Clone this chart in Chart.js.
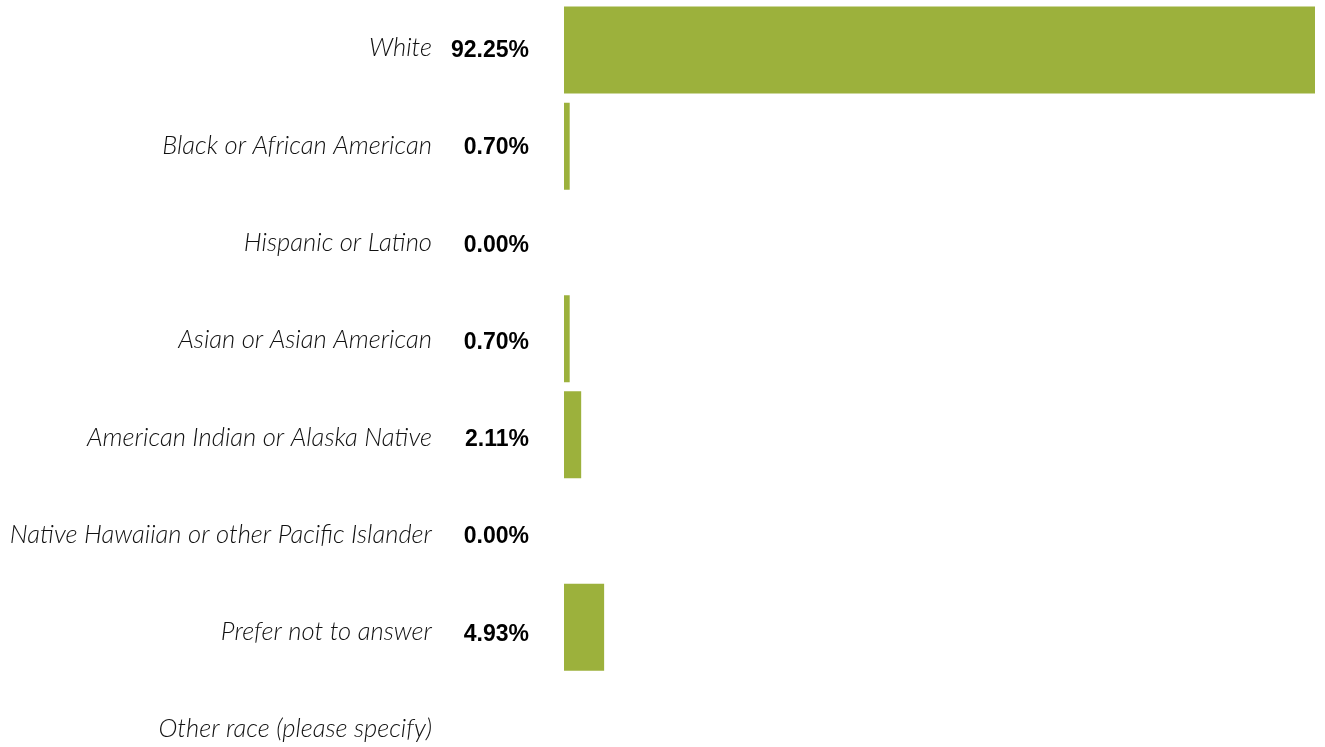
<!DOCTYPE html>
<html>
<head>
<meta charset="utf-8">
<script src="https://cdn.jsdelivr.net/npm/chart.js@4"></script>
<style>
  html, body { margin: 0; padding: 0; background: #fff; overflow: hidden; }
  #wrap { position: relative; width: 1325px; height: 774px; }
</style>
</head>
<body>
<div id="wrap"><canvas id="chartRace"></canvas></div>
<script>
const categories = [
    'White',
    'Black or African American',
    'Hispanic or Latino',
    'Asian or Asian American',
    'American Indian or Alaska Native',
    'Native Hawaiian or other Pacific Islander',
    'Prefer not to answer',
    'Other race (please specify)'
];
const percentValues = [92.25, 0.70, 0.00, 0.70, 2.11, 0.00, 4.93, null];
const valueLabels = ['92.25%', '0.70%', '0.00%', '0.70%', '2.11%', '0.00%', '4.93%', ''];

const barColor = '#9cb13c';

// category names (italic) + bold percentages, both left of the bars
const labelColumns = {
    id: 'labelColumns',
    afterDraw(chart) {
        const ctx = chart.ctx;
        const yScale = chart.scales.y;
        ctx.save();
        ctx.textAlign = 'right';
        ctx.textBaseline = 'middle';
        ctx.fillStyle = '#111';
        ctx.font = 'italic 300 25.6px Lato, "Open Sans", sans-serif';
        categories.forEach((txt, i) => {
            // original text rows sit a touch further apart than the bars
            ctx.fillText(txt, 432, yScale.getPixelForValue(i) - 2 + i * 1.1);
        });
        ctx.fillStyle = '#000';
        ctx.font = 'bold 23px "Liberation Sans", Arial, sans-serif';
        valueLabels.forEach((txt, i) => {
            if(!txt) return;
            ctx.fillText(txt, 529, yScale.getPixelForValue(i) + 0.5 + i * 1.1);
        });
        ctx.restore();
    }
};

new Chart(document.getElementById('chartRace'), {
    type: 'bar',
    data: {
        labels: categories,
        datasets: [{
            data: percentValues,
            backgroundColor: barColor,
            borderWidth: 0,
            categoryPercentage: 0.905,
            barPercentage: 1
        }]
    },
    options: {
        indexAxis: 'y',
        responsive: true,
        maintainAspectRatio: false,
        animation: false,
        layout: { padding: { top: 2, bottom: 2.5, left: 0, right: 10 } },
        plugins: { legend: { display: false }, tooltip: { enabled: false } },
        scales: {
            x: { display: false, min: 0, max: 92.25 },
            y: {
                grid: { display: false, drawTicks: false },
                border: { display: false },
                ticks: { display: false, padding: 0 },
                afterFit: (scale) => { scale.width = 564; }
            }
        }
    },
    plugins: [labelColumns]
});
</script>
</body>
</html>
